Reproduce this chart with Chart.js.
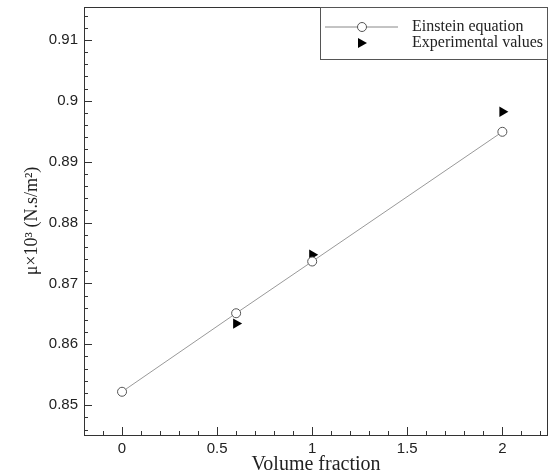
<!DOCTYPE html>
<html>
<head>
<meta charset="utf-8">
<script src="https://cdn.jsdelivr.net/npm/chart.js@4"></script>
<style>
    html, body { margin: 0; padding: 0; background: #fff; }
</style>
</head>
<body>
<canvas id="chart" width="550" height="474"></canvas>
<script>
// data
const volumeFraction = [0, 0.6, 1, 2];
const einsteinValues = [0.8522, 0.8651, 0.8736, 0.8949];
const experimentalFraction = [0.6, 1, 2];
const experimentalValues = [0.8634, 0.8747, 0.8982];
const xTicks = [0, 0.5, 1, 1.5, 2];
const yTicks = [0.85, 0.86, 0.87, 0.88, 0.89, 0.9, 0.91];

const seriesNames = ['Einstein equation', 'Experimental values'];
const yTitle = 'μ×10³ (N.s/m²)';
const xTitle = 'Volume fraction';

const sansFont = '"Liberation Sans", Arial, sans-serif';
const serifFont = '"Liberation Serif", "Times New Roman", serif';

function toPoints(xs, ys) {
    return xs.map((x, i) => ({ x: x, y: ys[i] }));
}

// no extra room for overhanging tick labels
function noPadding(scale) {
    scale.paddingTop = 0;
    scale.paddingBottom = 0;
    scale.paddingLeft = 0;
    scale.paddingRight = 0;
}

// frame, inward tick marks, y title and the boxed legend
const framePlugin = {
    id: 'frame',
    afterDraw(chart) {
        const ctx = chart.ctx;
        const area = chart.chartArea;
        const xs = chart.scales.x;
        const ys = chart.scales.y;
        ctx.save();
        ctx.strokeStyle = '#333';
        ctx.lineWidth = 1;
        ctx.strokeRect(area.left + 0.5, area.top + 0.5, area.right - area.left - 1, area.bottom - area.top);

        // x ticks every 0.1, major every 0.5
        ctx.beginPath();
        for (let i = -1; i <= 22; i++) {
            const v = i / 10;
            const px = Math.round(xs.getPixelForValue(v)) + 0.5;
            const len = (i % 5 === 0) ? 8 : 4;
            ctx.moveTo(px, area.bottom);
            ctx.lineTo(px, area.bottom - len);
        }
        // y ticks every 0.002, major every 0.01
        for (let i = 423; i <= 457; i++) {
            const v = i / 500;
            const py = Math.round(ys.getPixelForValue(v)) + 0.5;
            const len = (i % 5 === 0) ? 8 : 4;
            ctx.moveTo(area.left, py);
            ctx.lineTo(area.left + len, py);
        }
        ctx.stroke();

        // y axis title
        ctx.save();
        ctx.translate(32, (area.top + area.bottom) / 2);
        ctx.rotate(-Math.PI / 2);
        ctx.fillStyle = '#222';
        ctx.font = '18px ' + serifFont;
        ctx.textAlign = 'center';
        ctx.textBaseline = 'middle';
        ctx.fillText(yTitle, 0, 0);
        ctx.restore();

        // legend box
        const bx = 320, by = area.top;
        const bw = area.right - bx, bh = 52;
        ctx.fillStyle = '#fff';
        ctx.fillRect(bx, by, bw, bh);
        ctx.strokeStyle = '#555';
        ctx.strokeRect(bx + 0.5, by + 0.5, bw - 1, bh);

        const row1 = by + 20, row2 = by + 36;
        ctx.strokeStyle = '#888';
        ctx.beginPath();
        ctx.moveTo(325, row1);
        ctx.lineTo(398, row1);
        ctx.stroke();
        ctx.beginPath();
        ctx.arc(362, row1, 4.5, 0, Math.PI * 2);
        ctx.fillStyle = '#fff';
        ctx.fill();
        ctx.strokeStyle = '#555';
        ctx.stroke();

        ctx.beginPath();
        ctx.moveTo(367, row2);
        ctx.lineTo(358, row2 - 5);
        ctx.lineTo(358, row2 + 5);
        ctx.closePath();
        ctx.fillStyle = '#000';
        ctx.fill();

        ctx.fillStyle = '#222';
        ctx.font = '16px ' + serifFont;
        ctx.textAlign = 'left';
        ctx.textBaseline = 'middle';
        ctx.fillText(seriesNames[0], 412, row1);
        ctx.fillText(seriesNames[1], 412, row2);
        ctx.restore();
    }
};

new Chart(document.getElementById('chart'), {
    type: 'scatter',
    data: {
        datasets: [{
            label: seriesNames[0],
            data: toPoints(volumeFraction, einsteinValues),
            showLine: true,
            borderColor: '#999',
            borderWidth: 1,
            pointStyle: 'circle',
            pointRadius: 4.5,
            pointBackgroundColor: '#fff',
            pointBorderColor: '#555',
            pointBorderWidth: 1
        }, {
            label: seriesNames[1],
            data: toPoints(experimentalFraction, experimentalValues),
            showLine: false,
            pointStyle: 'triangle',
            rotation: 90,
            pointRadius: 6,
            pointBackgroundColor: '#000',
            pointBorderColor: '#000',
            pointBorderWidth: 0
        }]
    },
    options: {
        responsive: false,
        animation: false,
        devicePixelRatio: 1,
        layout: { autoPadding: false, padding: { top: 7, right: 2, left: 0, bottom: 0 } },
        plugins: {
            legend: { display: false },
            tooltip: { enabled: false }
        },
        scales: {
            x: {
                type: 'linear',
                min: -0.2,
                max: 2.24,
                grid: { display: false, drawTicks: false },
                border: { display: false },
                afterBuildTicks: scale => { scale.ticks = xTicks.map(v => ({ value: v })); },
                afterFit: scale => { scale.height = 39; noPadding(scale); },
                ticks: {
                    padding: 5,
                    color: '#222',
                    font: { family: sansFont, size: 15 },
                    callback: v => String(v)
                },
                title: {
                    display: true,
                    text: xTitle,
                    color: '#222',
                    font: { family: serifFont, size: 20 },
                    padding: { top: 0, bottom: -3 }
                }
            },
            y: {
                type: 'linear',
                min: 0.8451,
                max: 0.9154,
                grid: { display: false, drawTicks: false },
                border: { display: false },
                afterBuildTicks: scale => { scale.ticks = yTicks.map(v => ({ value: v })); },
                afterFit: scale => { scale.width = 84; noPadding(scale); },
                ticks: {
                    padding: 6,
                    color: '#222',
                    font: { family: sansFont, size: 15 },
                    callback: v => String(v)
                }
            }
        }
    },
    plugins: [framePlugin]
});
</script>
</body>
</html>
